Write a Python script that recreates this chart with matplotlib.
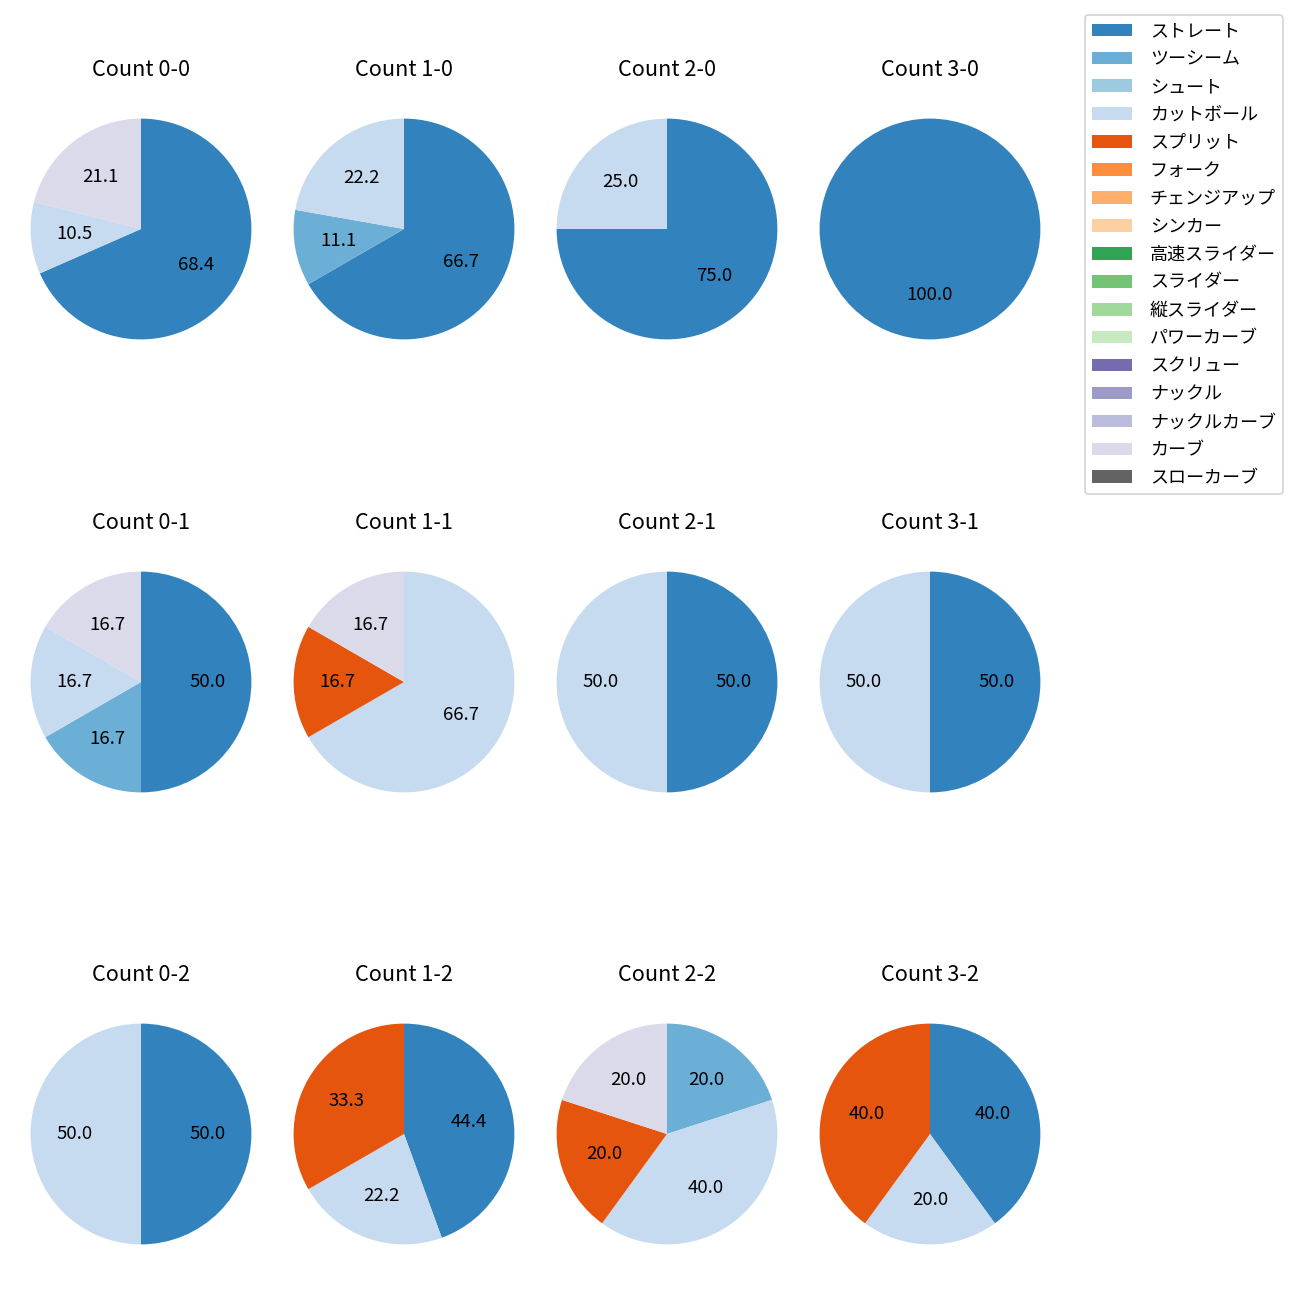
import matplotlib
matplotlib.use("Agg")
import matplotlib.pyplot as plt
from matplotlib.patches import Patch

plt.rcParams['font.family'] = ['Noto Sans CJK JP', 'DejaVu Sans']

pitch_types = ["ストレート", "ツーシーム", "シュート", "カットボール", "スプリット", "フォーク",
               "チェンジアップ", "シンカー", "高速スライダー", "スライダー", "縦スライダー",
               "パワーカーブ", "スクリュー", "ナックル", "ナックルカーブ", "カーブ", "スローカーブ"]
pitch_colors = ["#3182bd", "#6baed6", "#9ecae1", "#c6dbef", "#e6550d", "#fd8d3c",
                "#fdae6b", "#fdd0a2", "#31a354", "#74c476", "#a1d99b", "#c7e9c0",
                "#756bb1", "#9e9ac8", "#bcbddc", "#dadaeb", "#636363"]

# pitch counts per ball-strike count (percentages shown are derived by pie)
count_0_0 = {"ストレート": 13, "カットボール": 2, "カーブ": 4}
count_1_0 = {"ストレート": 6, "ツーシーム": 1, "カットボール": 2}
count_2_0 = {"ストレート": 3, "カットボール": 1}
count_3_0 = {"ストレート": 1}
count_0_1 = {"ストレート": 3, "ツーシーム": 1, "カットボール": 1, "カーブ": 1}
count_1_1 = {"カットボール": 4, "スプリット": 1, "カーブ": 1}
count_2_1 = {"ストレート": 1, "カットボール": 1}
count_3_1 = {"ストレート": 1, "カットボール": 1}
count_0_2 = {"ストレート": 1, "カットボール": 1}
count_1_2 = {"ストレート": 4, "カットボール": 2, "スプリット": 3}
count_2_2 = {"ツーシーム": 1, "カットボール": 2, "スプリット": 1, "カーブ": 1}
count_3_2 = {"ストレート": 2, "カットボール": 1, "スプリット": 2}

grid = [
    [("Count 0-0", count_0_0), ("Count 1-0", count_1_0), ("Count 2-0", count_2_0), ("Count 3-0", count_3_0)],
    [("Count 0-1", count_0_1), ("Count 1-1", count_1_1), ("Count 2-1", count_2_1), ("Count 3-1", count_3_1)],
    [("Count 0-2", count_0_2), ("Count 1-2", count_1_2), ("Count 2-2", count_2_2), ("Count 3-2", count_3_2)],
]

W = H = 1300
fig = plt.figure(figsize=(10, 10), dpi=130)
col_centers = [141, 404, 667, 930]
row_centers = [229, 682, 1134]
side = 276

color_map = dict(zip(pitch_types, pitch_colors))

for r, row in enumerate(grid):
    for c, (title, data) in enumerate(row):
        cx, cy = col_centers[c], row_centers[r]
        ax = fig.add_axes([(cx - side / 2) / W, 1 - (cy + side / 2) / H, side / W, side / H])
        names = [p for p in pitch_types if p in data]
        vals = [data[p] for p in names]
        cols = [color_map[p] for p in names]
        ax.pie(vals, colors=cols, startangle=90, counterclock=False,
               autopct='%.1f', textprops={'fontsize': 10.3})
        ax.set_title(title, fontsize=12, pad=8.2)

handles = [Patch(facecolor=col, label=name) for name, col in zip(pitch_types, pitch_colors)]
fig.legend(handles=handles, loc='upper right', bbox_to_anchor=(1283 / W, 1 - 15 / H),
           borderaxespad=0, fontsize=10, labelspacing=0.55,
           handlelength=2.2, handletextpad=1.0)

fig.savefig("out.png", dpi=130)
